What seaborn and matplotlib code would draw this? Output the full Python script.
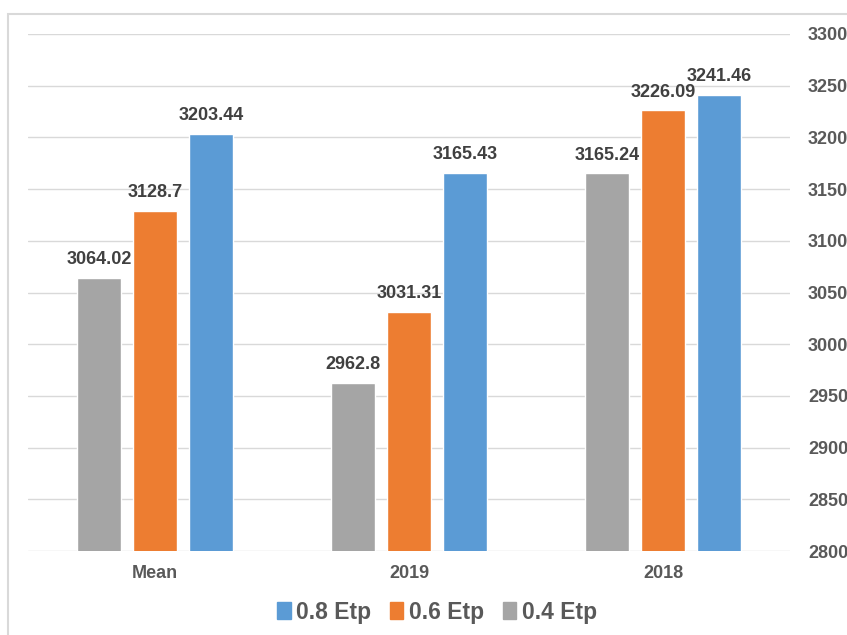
import matplotlib
matplotlib.use("Agg")
import matplotlib.pyplot as plt
from matplotlib.patches import Rectangle
import pandas as pd
import seaborn as sns

categories = ["Mean", "2019", "2018"]
series = ["0.4 Etp", "0.6 Etp", "0.8 Etp"]
vals_04 = [3064.02, 2962.8, 3165.24]
vals_06 = [3128.7, 3031.31, 3226.09]
vals_08 = [3203.44, 3165.43, 3241.46]
yticks = [2800, 2850, 2900, 2950, 3000, 3050, 3100, 3150, 3200, 3250, 3300]

df = pd.DataFrame({
    "cat": categories * 3,
    "etp": [s for s in series for _ in categories],
    "val": vals_04 + vals_06 + vals_08,
})
colors = {"0.4 Etp": "#A5A5A5", "0.6 Etp": "#ED7D31", "0.8 Etp": "#5B9BD5"}

sns.set_style("white")
plt.rcParams["font.family"] = ["Liberation Sans", "DejaVu Sans"]

fig = plt.figure(figsize=(8.47, 6.35), dpi=100)
ax = fig.add_axes([28 / 847, 1 - 551 / 635, (790 - 28) / 847, (551 - 34) / 635])

sns.barplot(data=df, x="cat", y="val", hue="etp", order=categories,
            hue_order=series, palette=colors, width=0.66, gap=0.2,
            saturation=1, ax=ax, legend=False)

for cont in ax.containers:
    ax.bar_label(cont, labels=[f"{v:g}" for v in cont.datavalues], padding=7,
                 fontsize=13, fontweight="bold", color="#404040")

ax.set_ylim(2800, 3300)
ax.set_yticks(yticks)
ax.yaxis.tick_right()
ax.grid(axis="y", color="#D9D9D9", linewidth=1)
ax.set_axisbelow(True)
for s in ax.spines.values():
    s.set_visible(False)
ax.tick_params(axis="y", length=0, pad=13, labelsize=13, labelcolor="#595959")
ax.tick_params(axis="x", length=0, pad=10, labelsize=13, labelcolor="#595959")
for t in ax.get_yticklabels() + ax.get_xticklabels():
    t.set_fontweight("bold")
ax.set_xlabel("")
ax.set_ylabel("")

handles = [Rectangle((0, 0), 1, 1, color=colors[s]) for s in series[::-1]]
fig.legend(handles, series[::-1], loc="center", bbox_to_anchor=(437 / 847, 1 - 612 / 635),
           ncol=3, frameon=False, handlelength=0.6, handleheight=0.8, handletextpad=0.25,
           columnspacing=0.8, prop={"size": 16.5, "weight": "bold"}, labelcolor="#595959")

fig.patches.append(Rectangle((8 / 847, -0.1), 2, 1.1 - 13.5 / 635, transform=fig.transFigure,
                             fill=False, edgecolor="#D9D9D9", linewidth=1.5, figure=fig))

fig.savefig("out.png", dpi=100)
